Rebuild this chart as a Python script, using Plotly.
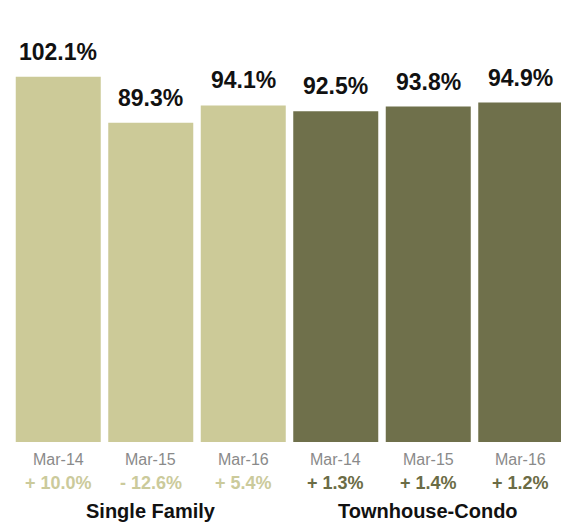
import plotly.graph_objects as go

# Data
groups = ["Single Family", "Townhouse-Condo"]
periods = ["Mar-14", "Mar-15", "Mar-16"]
single_family = [102.1, 89.3, 94.1]
townhouse_condo = [92.5, 93.8, 94.9]
single_family_change = ["+ 10.0%", "- 12.6%", "+ 5.4%"]
townhouse_condo_change = ["+ 1.3%", "+ 1.4%", "+ 1.2%"]

LIGHT = "#CCCA98"
DARK = "#6F704B"
LIGHT_TXT = "#CBCA9B"
DARK_TXT = "#6B6C45"
FONT = "Liberation Sans, Arial, Helvetica, sans-serif"

values = single_family + townhouse_condo
changes = single_family_change + townhouse_condo_change
labels = periods + periods
colors = [LIGHT] * 3 + [DARK] * 3
change_colors = [LIGHT_TXT] * 3 + [DARK_TXT] * 3
xs = list(range(len(values)))

fig = go.Figure()
fig.add_trace(go.Bar(
    x=xs, y=values, width=0.919,
    marker=dict(color=colors, line=dict(width=0)),
    hoverinfo="skip",
))

annotations = []
for x, v, lab, ch, cc in zip(xs, values, labels, changes, change_colors):
    annotations.append(dict(
        x=x, y=v, xref="x", yref="y", text=f"<b>{v:.1f}%</b>",
        showarrow=False, yanchor="middle", yshift=25,
        font=dict(family=FONT, size=23, color="#111111"),
    ))
    annotations.append(dict(
        x=x, y=0, xref="x", yref="y", text=lab,
        showarrow=False, yanchor="middle", yshift=-17,
        font=dict(family=FONT, size=16, color="#8A8A8A"),
    ))
    annotations.append(dict(
        x=x, y=0, xref="x", yref="y", text=f"<b>{ch}</b>",
        showarrow=False, yanchor="middle", yshift=-41,
        font=dict(family=FONT, size=18, color=cc),
    ))

for gi, g in enumerate(groups):
    annotations.append(dict(
        x=gi * 3 + 1, y=0, xref="x", yref="y", text=f"<b>{g}</b>",
        showarrow=False, yanchor="middle", yshift=-69,
        font=dict(family=FONT, size=20, color="#111111"),
    ))

# Baseline and group separators
shapes = [dict(
    type="line", xref="x", yref="y", x0=-0.5, x1=5.5,
    ysizemode="pixel", yanchor=0, y0=-1, y1=-1,
    line=dict(color="#BBBBBB", width=2),
)]
for bx in [-0.5, 2.5, 5.5]:
    shapes.append(dict(
        type="line", xref="x", yref="y", x0=bx, x1=bx,
        ysizemode="pixel", yanchor=0, y0=-1, y1=-8,
        line=dict(color="#BBBBBB", width=2),
    ))

fig.update_layout(
    width=561, height=530,
    margin=dict(l=12, r=0, t=10, b=88),
    paper_bgcolor="white", plot_bgcolor="white",
    showlegend=False,
    xaxis=dict(range=[-0.5, 5.435], visible=False, fixedrange=True),
    yaxis=dict(range=[0, 120.8], visible=False, fixedrange=True),
    annotations=annotations,
    shapes=shapes,
)

fig.write_html("out.html")
